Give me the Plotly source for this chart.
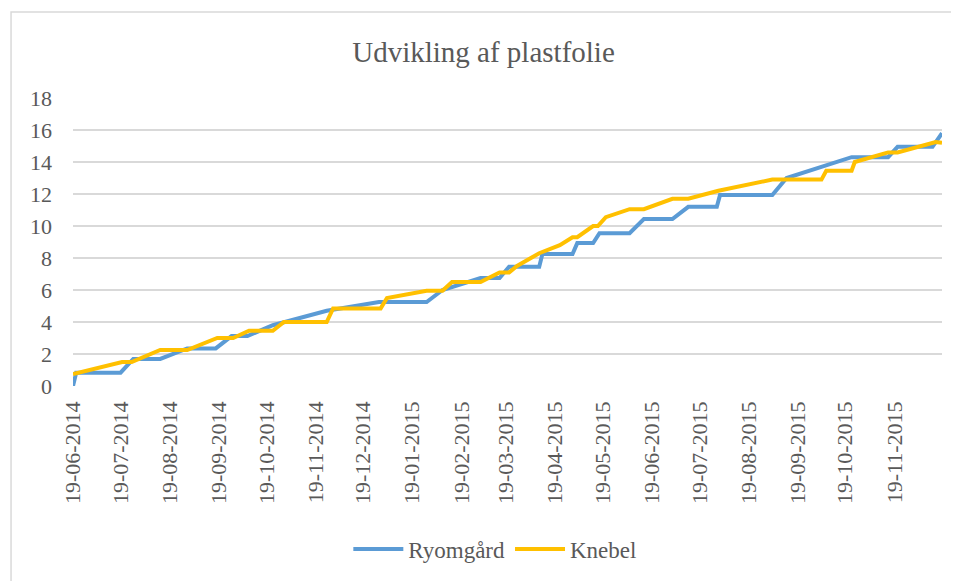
import plotly.graph_objects as go

# Data
ryomgaard_dates = [
    "2014-06-19", "2014-06-21", "2014-07-19", "2014-07-27", "2014-08-13", "2014-08-30",
    "2014-09-17", "2014-09-27", "2014-10-07", "2014-10-23", "2014-11-26", "2014-12-29",
    "2015-01-28", "2015-02-07", "2015-03-03", "2015-03-15", "2015-03-21", "2015-04-09",
    "2015-04-11", "2015-04-30", "2015-05-03", "2015-05-13", "2015-05-17", "2015-06-05",
    "2015-06-14", "2015-07-02", "2015-07-12", "2015-07-30", "2015-08-01", "2015-09-03",
    "2015-09-12", "2015-10-05", "2015-10-23", "2015-11-15", "2015-11-21", "2015-12-13",
    "2015-12-19",
]
ryomgaard_values = [
    0.0, 0.83, 0.83, 1.69, 1.69, 2.35,
    2.35, 3.12, 3.12, 3.8, 4.7, 5.25,
    5.25, 6.0, 6.75, 6.75, 7.45, 7.45,
    8.25, 8.25, 8.93, 8.93, 9.55, 9.55,
    10.43, 10.43, 11.2, 11.2, 11.93, 11.93,
    13.0, 13.7, 14.3, 14.3, 14.95, 14.95,
    15.8,
]

knebel_dates = [
    "2014-06-19", "2014-07-20", "2014-07-26", "2014-08-13", "2014-08-30", "2014-09-18",
    "2014-09-28", "2014-10-08", "2014-10-23", "2014-10-30", "2014-11-26", "2014-11-30",
    "2014-12-30", "2015-01-03", "2015-01-28", "2015-02-07", "2015-02-13", "2015-03-03",
    "2015-03-15", "2015-03-21", "2015-03-26", "2015-04-09", "2015-04-22", "2015-04-30",
    "2015-05-03", "2015-05-13", "2015-05-16", "2015-05-21", "2015-06-05", "2015-06-14",
    "2015-07-02", "2015-07-12", "2015-07-31", "2015-09-03", "2015-10-04", "2015-10-07",
    "2015-10-23", "2015-10-25", "2015-11-15", "2015-11-21", "2015-12-15", "2015-12-19",
]
knebel_values = [
    0.75, 1.5, 1.5, 2.25, 2.25, 3.0,
    3.0, 3.45, 3.45, 4.0, 4.0, 4.85,
    4.85, 5.5, 5.95, 5.95, 6.5, 6.5,
    7.1, 7.1, 7.5, 8.3, 8.8, 9.3,
    9.3, 10.0, 10.0, 10.55, 11.05, 11.05,
    11.7, 11.7, 12.2, 12.9, 12.9, 13.45,
    13.45, 14.0, 14.6, 14.6, 15.25, 15.2,
]

tick_dates = [
    "2014-06-19", "2014-07-19", "2014-08-19", "2014-09-19", "2014-10-19", "2014-11-19",
    "2014-12-19", "2015-01-19", "2015-02-19", "2015-03-19", "2015-04-19", "2015-05-19",
    "2015-06-19", "2015-07-19", "2015-08-19", "2015-09-19", "2015-10-19", "2015-11-19",
]
tick_labels = [
    "19-06-2014", "19-07-2014", "19-08-2014", "19-09-2014", "19-10-2014", "19-11-2014",
    "19-12-2014", "19-01-2015", "19-02-2015", "19-03-2015", "19-04-2015", "19-05-2015",
    "19-06-2015", "19-07-2015", "19-08-2015", "19-09-2015", "19-10-2015", "19-11-2015",
]
y_ticks = [0, 2, 4, 6, 8, 10, 12, 14, 16, 18]

FONT = "Liberation Serif"
TXT = "#595959"

fig = go.Figure()
fig.add_trace(go.Scatter(x=ryomgaard_dates, y=ryomgaard_values, mode="lines",
                         name="Ryomgård", line=dict(color="#5B9BD5", width=4)))
fig.add_trace(go.Scatter(x=knebel_dates, y=knebel_values, mode="lines",
                         name="Knebel", line=dict(color="#FFC000", width=4)))

# page has an 8px body margin, so the figure is 8px smaller and shifted
fig.update_layout(
    width=951, height=573,
    margin=dict(l=65, r=17, t=90, b=195, autoexpand=False),
    paper_bgcolor="white", plot_bgcolor="white",
    font=dict(family=FONT, color=TXT, size=22),
    title=dict(text="Udvikling af plastfolie", x=0.5, xanchor="center",
               y=1 - 44 / 573, yanchor="middle",
               font=dict(family=FONT, size=29, color=TXT)),
    showlegend=True,
    legend=dict(orientation="h", x=0.486, xanchor="center", y=-0.566, yanchor="middle",
                font=dict(family=FONT, size=23, color=TXT), itemwidth=50),
    xaxis=dict(type="date", range=["2014-06-19", "2015-12-19"], automargin=False,
               tickvals=tick_dates, ticktext=tick_labels, tickangle=-90,
               showgrid=False, zeroline=False, showline=False, ticks="",
               ticklabelstandoff=10,
               tickfont=dict(family=FONT, size=22, color=TXT)),
    yaxis=dict(range=[0, 18], tickvals=y_ticks, showgrid=True, automargin=False,
               gridcolor="#D9D9D9", gridwidth=1.5, zeroline=False,
               showline=False, ticks="", ticklabelstandoff=20,
               tickfont=dict(family=FONT, size=22, color=TXT)),
    shapes=[dict(type="rect", xref="paper", yref="paper",
                 x0=-0.0713, x1=1.03, y0=-0.75, y1=1.2986,
                 line=dict(color="#D9D9D9", width=1.5), layer="below")],
)

fig.write_html("out.html")
